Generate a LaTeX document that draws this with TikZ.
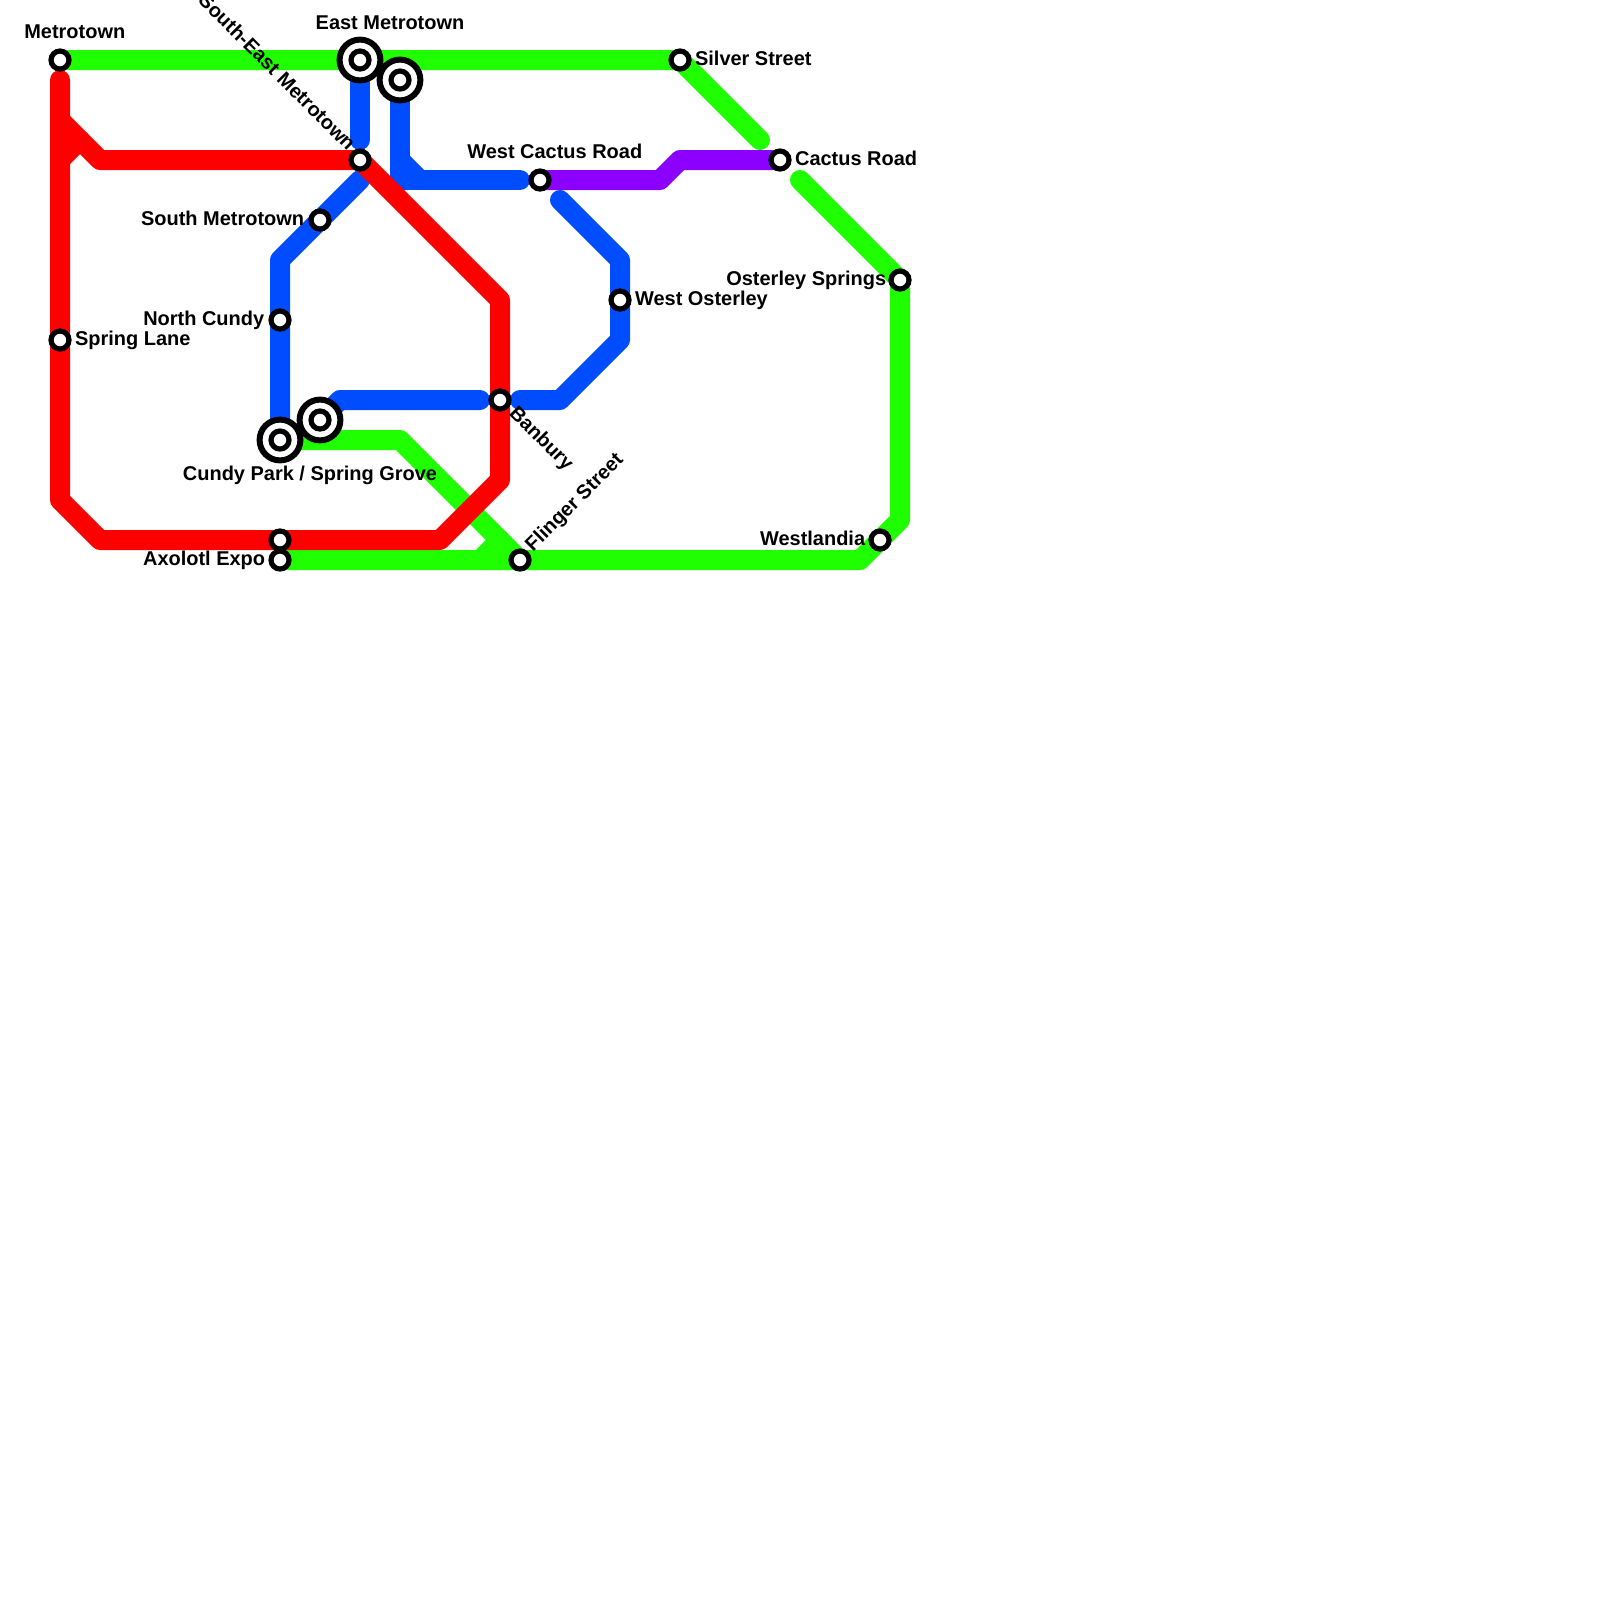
\documentclass[tikz,border=0pt]{standalone}
\usepackage{fontspec}
\newfontfamily\stnfont{Liberation Sans Bold}
\usetikzlibrary{positioning,backgrounds}
\definecolor{vonal1}{RGB}{31,255,0}
\definecolor{vonal2}{RGB}{0,76,255}
\definecolor{vonal3}{RGB}{255,0,0}
\definecolor{vonal4}{RGB}{140,0,255}
\tikzset{
  stn/.style={circle,draw=black,fill=white,line width=1.3mm,inner sep=0pt,minimum size=4.5mm},
  hub/.style={circle,draw=black,fill=white,line width=1.5mm,inner sep=0pt,minimum size=10.2mm},
  lab/.style={inner sep=0pt,text height=3.6mm,text depth=0.9mm,font=\fontsize{14.2}{16}\stnfont},
  metro/.style={line width=5mm,line cap=round,line join=round},
}

\begin{document}
\begin{tikzpicture}[x=5mm,y=-5mm]
  \useasboundingbox (0,0) rectangle (80,80);
  % stations
  \node[stn] (metrotown) at (3,3) {};
  \node[hub] (eastmetro) at (18,3) {}; \node[stn] (eastmetroin) at (eastmetro) {};
  \node[hub] (eastmetrob) at (20,4) {}; \node[stn] (eastmetrobin) at (eastmetrob) {};
  \node[stn] (semetro) at (18,8) {};
  \node[stn] (smetro) at (16,11) {};
  \node[stn] (ncundy) at (14,16) {};
  \node[stn] (spring) at (3,17) {};
  \node[hub] (cundy) at (14,22) {}; \node[stn] (cundyin) at (cundy) {};
  \node[hub] (grove) at (16,21) {}; \node[stn] (grovein) at (grove) {};
  \node[stn] (axored) at (14,27) {};
  \node[stn] (axolotl) at (14,28) {};
  \node[stn] (banbury) at (25,20) {};
  \node[stn] (flinger) at (26,28) {};
  \node[stn] (wcactus) at (27,9) {};
  \node[stn] (cactus) at (39,8) {};
  \node[stn] (silver) at (34,3) {};
  \node[stn] (wosterley) at (31,15) {};
  \node[stn] (osterley) at (45,14) {};
  \node[stn] (westlandia) at (44,27) {};
  % bends and free ends
  \foreach \nm/\px/\py in {g1/38/7,g2/40/9,g3/45/26,g4/43/28,g5/20/22,g6/24/28,g7/25/27,
    b1/18/7,b2/18/9,b3/14/13,b4/20/8,b5/20/9,b6/21/9,b7/26/9,b8/28/10,b9/31/13,b10/31/17,
    b11/28/20,b12/26/20,b13/24/20,b14/17/20,
    r1/3/4,r2/3/25,r3/5/27,r4/22/27,r5/25/24,r6/25/15,r7/5/8,r8/3/6,r9/3/8,r10/4/7,
    p1/33/9,p2/34/8}
    \coordinate (\nm) at (\px,\py);
  \begin{scope}[on background layer]
    \draw[metro,vonal1] (metrotown.center) -- (silver.center) -- (g1);
    \draw[metro,vonal1] (g2) -- (osterley.center) -- (g3) -- (g4) -- (axolotl.center);
    \draw[metro,vonal1] (cundy.center) -- (g5) -- (flinger.center);
    \draw[metro,vonal1] (g6) -- (g7);
    \draw[metro,vonal2] (eastmetro.center) -- (b1);
    \draw[metro,vonal2] (b2) -- (b3) -- (cundy.center);
    \draw[metro,vonal2] (eastmetrob.center) -- (b5) -- (b7);
    \draw[metro,vonal2] (b4) -- (b6);
    \draw[metro,vonal2] (b8) -- (b9) -- (b10) -- (b11) -- (b12);
    \draw[metro,vonal2] (b13) -- (b14) -- (grove.center);
    \draw[metro,vonal4] (wcactus.center) -- (p1) -- (p2) -- (cactus.center);
    \draw[metro,vonal3] (r1) -- (r2) -- (r3) -- (r4) -- (r5) -- (r6) -- (semetro.center) -- (r7) -- (r8);
    \draw[metro,vonal3] (r9) -- (r10);
  \end{scope}
  % labels
  \node[lab,above=1.5mm of metrotown,xshift=3.7mm] (metrotownlab) {Metrotown};
  \node[lab,above=0.9mm of eastmetro,xshift=7.5mm] (eastmetrolab) {East Metrotown};
  \node[lab,xshift=-2.2mm,yshift=3mm,rotate=-45,anchor=east] (semetrolab) at (semetro) {South-East Metrotown};
  \node[lab,left=1mm of smetro] (smetrolab) {South Metrotown};
  \node[lab,left=1mm of ncundy] (ncundylab) {North Cundy};
  \node[lab,right=.8mm of spring] (springlab) {Spring Lane};
  \node[lab,below=0.7mm of cundy,xshift=7.5mm] (cundylab) {Cundy Park / Spring Grove};
  \node[lab,left=.75mm of axolotl] (axolotllab) {Axolotl Expo};
  \node[lab,xshift=3mm,yshift=-2.5mm,rotate=-45,anchor=west] (banburylab) at (banbury) {Banbury};
  \node[lab,xshift=2.3mm,yshift=2.9mm,rotate=45,anchor=west] (flingerlab) at (flinger) {Flinger Street};
  \node[lab,left=.75mm of westlandia] (westlandialab) {Westlandia};
  \node[lab,left=0.5mm of osterley] (osterleylab) {Osterley Springs};
  \node[lab,right=.8mm of wosterley] (wosterleylab) {West Osterley};
  \node[lab,right=.8mm of silver] (silverlab) {Silver Street};
  \node[lab,right=.8mm of cactus] (cactuslab) {Cactus Road};
  \node[lab,above=1.6mm of wcactus,xshift=3.7mm] (wcactuslab) {West Cactus Road};
\end{tikzpicture}
\end{document}
